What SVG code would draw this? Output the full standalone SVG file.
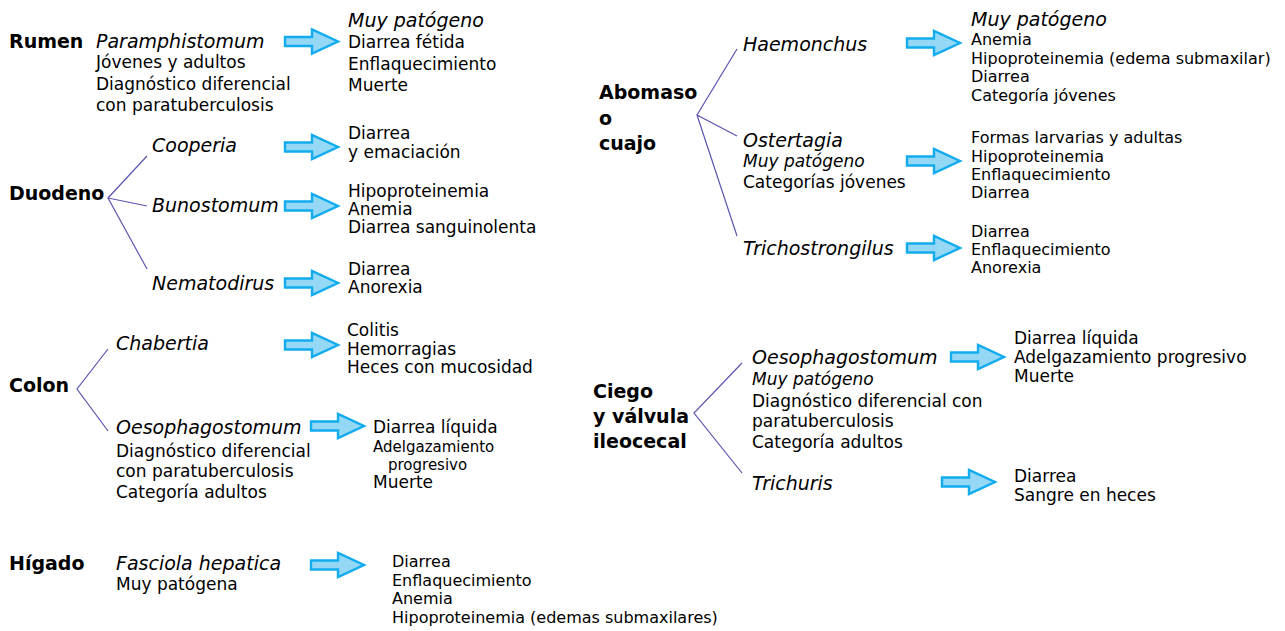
<svg xmlns="http://www.w3.org/2000/svg" xmlns:xlink="http://www.w3.org/1999/xlink" width="1285" height="631" viewBox="0 0 1285 631">
<defs>
<style>
text{font-family:"DejaVu Sans","Verdana",sans-serif;fill:#000}
.b{font-weight:bold;font-size:19px}
.i{font-style:italic;font-size:19px}
.is{font-style:italic;font-size:17px}
.t{font-size:17px}
.t16{font-size:16px}
.t15{font-size:15px}
.br{stroke:#5a55b0;stroke-width:1.2;fill:none}
.ar{fill:#94d8f6;stroke:#12acee;stroke-width:2.4;stroke-linejoin:miter}
</style>
<path id="arr" class="ar" d="M0,-4.5 H27 V-12 L53,0 L27,12 V4.5 H0 Z"/>
</defs>
<rect width="1285" height="631" fill="#fff"/>

<g id="connectors">
<path class="br" d="M147,156 L108,198 L147,206 M108,198 L147,269"/>
<path class="br" d="M108,349 L77,389 L108,431"/>
<path class="br" d="M737,49 L697,115 L737,136 M697,115 L737,236"/>
<path class="br" d="M742,363 L694,413 L742,473"/>
<use xlink:href="#arr" x="285" y="41.5"/>
<use xlink:href="#arr" x="285" y="147"/>
<use xlink:href="#arr" x="285" y="206"/>
<use xlink:href="#arr" x="285" y="283"/>
<use xlink:href="#arr" x="285" y="345"/>
<use xlink:href="#arr" x="311" y="426"/>
<use xlink:href="#arr" x="311" y="565"/>
<use xlink:href="#arr" x="907" y="43"/>
<use xlink:href="#arr" x="907" y="161"/>
<use xlink:href="#arr" x="907" y="248"/>
<use xlink:href="#arr" x="951" y="357"/>
<use xlink:href="#arr" x="942" y="482"/>
</g>

<g id="rumen">
<text class="b" x="9" y="48">Rumen</text>
<text class="i" x="96" y="48">Paramphistomum</text>
<text class="t" x="96" y="68">Jóvenes y adultos</text>
<text class="t" x="96" y="90">Diagnóstico diferencial</text>
<text class="t" x="96" y="111">con paratuberculosis</text>
<text class="i" x="348" y="27">Muy patógeno</text>
<text class="t" x="348" y="48">Diarrea fétida</text>
<text class="t" x="348" y="70">Enflaquecimiento</text>
<text class="t" x="348" y="91">Muerte</text>
</g>

<g id="duodeno">
<text class="b" x="9" y="200">Duodeno</text>
<text class="i" x="152" y="152">Cooperia</text>
<text class="i" x="152" y="212">Bunostomum</text>
<text class="i" x="152" y="290">Nematodirus</text>
<text class="t" x="348" y="139">Diarrea</text>
<text class="t" x="348" y="158">y emaciación</text>
<text class="t" x="348" y="197">Hipoproteinemia</text>
<text class="t" x="348" y="214.5">Anemia</text>
<text class="t" x="348" y="233">Diarrea sanguinolenta</text>
<text class="t" x="348" y="275">Diarrea</text>
<text class="t" x="348" y="293">Anorexia</text>
</g>

<g id="colon">
<text class="b" x="9" y="392">Colon</text>
<text class="i" x="116" y="350">Chabertia</text>
<text class="t" x="347" y="336">Colitis</text>
<text class="t" x="347" y="354.5">Hemorragias</text>
<text class="t" x="347" y="373">Heces con mucosidad</text>
<text class="i" x="116" y="434">Oesophagostomum</text>
<text class="t" x="116" y="457">Diagnóstico diferencial</text>
<text class="t" x="116" y="477">con paratuberculosis</text>
<text class="t" x="116" y="498">Categoría adultos</text>
<text class="t" x="373" y="433">Diarrea líquida</text>
<text class="t15" x="373" y="452">Adelgazamiento</text>
<text class="t15" x="388" y="470">progresivo</text>
<text class="t" x="373" y="488">Muerte</text>
</g>

<g id="higado">
<text class="b" x="9" y="570">Hígado</text>
<text class="i" x="116" y="570">Fasciola hepatica</text>
<text class="t" x="116" y="590">Muy patógena</text>
<text class="t16" x="392" y="567">Diarrea</text>
<text class="t16" x="392" y="586">Enflaquecimiento</text>
<text class="t16" x="392" y="604">Anemia</text>
<text class="t16" x="392" y="623">Hipoproteinemia (edemas submaxilares)</text>
</g>

<g id="abomaso">
<text class="b" x="599" y="99">Abomaso</text>
<text class="b" x="599" y="125">o</text>
<text class="b" x="599" y="150">cuajo</text>
<text class="i" x="743" y="51">Haemonchus</text>
<text class="i" x="971" y="26">Muy patógeno</text>
<text class="t16" x="971" y="45">Anemia</text>
<text class="t16" x="971" y="64">Hipoproteinemia (edema submaxilar)</text>
<text class="t16" x="971" y="82">Diarrea</text>
<text class="t16" x="971" y="101">Categoría jóvenes</text>
<text class="i" x="743" y="147">Ostertagia</text>
<text class="is" x="743" y="167">Muy patógeno</text>
<text class="t" x="743" y="188">Categorías jóvenes</text>
<text class="t16" x="971" y="143">Formas larvarias y adultas</text>
<text class="t16" x="971" y="162">Hipoproteinemia</text>
<text class="t16" x="971" y="180">Enflaquecimiento</text>
<text class="t16" x="971" y="198">Diarrea</text>
<text class="i" x="743" y="255">Trichostrongilus</text>
<text class="t16" x="971" y="237">Diarrea</text>
<text class="t16" x="971" y="255">Enflaquecimiento</text>
<text class="t16" x="971" y="273">Anorexia</text>
</g>

<g id="ciego">
<text class="b" x="593" y="398">Ciego</text>
<text class="b" x="593" y="423">y válvula</text>
<text class="b" x="593" y="448">ileocecal</text>
<text class="i" x="752" y="364">Oesophagostomum</text>
<text class="is" x="752" y="385">Muy patógeno</text>
<text class="t" x="752" y="407">Diagnóstico diferencial con</text>
<text class="t" x="752" y="427">paratuberculosis</text>
<text class="t" x="752" y="448">Categoría adultos</text>
<text class="t" x="1014" y="344">Diarrea líquida</text>
<text class="t" x="1014" y="363">Adelgazamiento progresivo</text>
<text class="t" x="1014" y="382">Muerte</text>
<text class="i" x="752" y="490">Trichuris</text>
<text class="t" x="1014" y="482">Diarrea</text>
<text class="t" x="1014" y="501">Sangre en heces</text>
</g>
</svg>
